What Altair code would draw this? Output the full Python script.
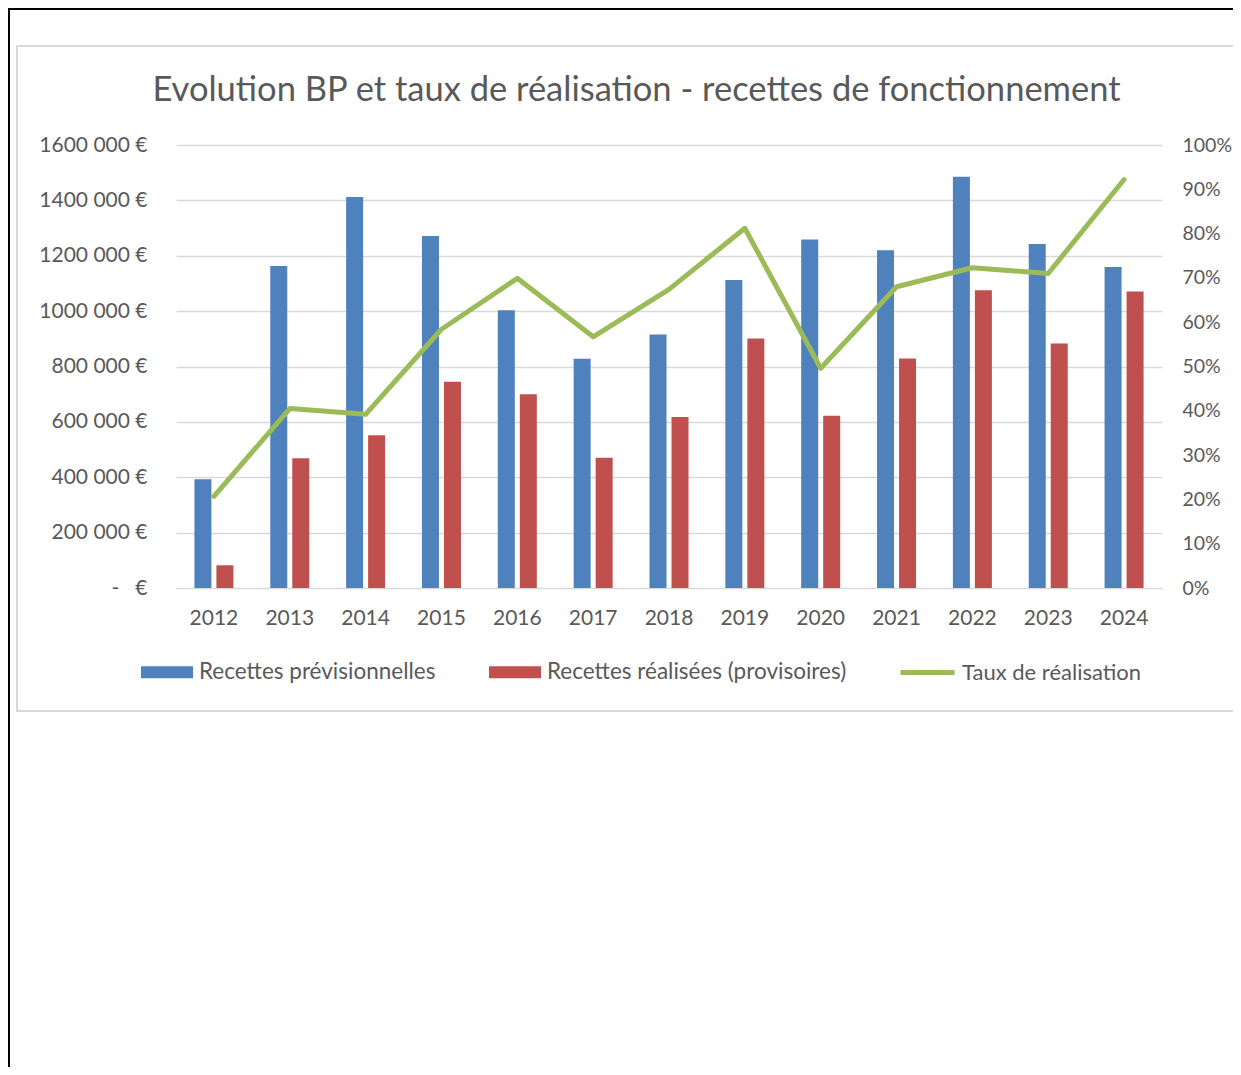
import altair as alt
import pandas as pd

# ---- data ----
years = [str(y) for y in range(2012, 2025)]
previsionnelles = [393000, 1163000, 1412000, 1271000, 1003000, 828000, 916000,
                   1112000, 1259000, 1220000, 1485000, 1242000, 1159000]
realisees = [82000, 469000, 552000, 745000, 700000, 470000, 618000,
             901000, 622000, 829000, 1075000, 883000, 1071000]
taux = [0.207, 0.405, 0.392, 0.584, 0.699, 0.567, 0.674,
        0.812, 0.496, 0.680, 0.723, 0.710, 0.922]

SER_PREV = "Recettes prévisionnelles"
SER_REAL = "Recettes réalisées (provisoires)"
SER_TAUX = "Taux de réalisation"
TITLE = "Evolution BP et taux de réalisation - recettes de fonctionnement"

bars_df = pd.DataFrame({
    "annee": years * 2,
    "serie": [SER_PREV] * len(years) + [SER_REAL] * len(years),
    "montant": previsionnelles + realisees,
})
line_df = pd.DataFrame({"annee": years, "serie": [SER_TAUX] * len(years), "taux": taux})
one = pd.DataFrame({"k": [0]})

FONT = "Lato"
GREY = "#595959"
GRID = "#D9D9D9"
LBL = 21

x_axis = alt.Axis(title=None, labelAngle=0, labelFont=FONT, labelFontSize=LBL,
                  labelColor=GREY, labelPadding=19, ticks=False, domain=False, grid=False)
x_scale = alt.Scale(domain=years, paddingInner=0.4858, paddingOuter=0.2429)

# decorative frames (page border and chart box)
black_frame = alt.Chart(one).mark_rect(fill=None, stroke="black", strokeWidth=2).encode(
    x=alt.value(-167), x2=alt.value(2000), y=alt.value(-136), y2=alt.value(2000))
grey_frame = alt.Chart(one).mark_rect(fill=None, stroke=GRID, strokeWidth=2).encode(
    x=alt.value(-159), x2=alt.value(2000), y=alt.value(-99), y2=alt.value(566))

left_label = ("datum.value == 0 ? '-\u00a0\u00a0\u00a0\u20ac' : "
              "format(datum.value / 1000, 'd') + ' 000 \u20ac'")

bars = alt.Chart(bars_df).mark_bar().encode(
    x=alt.X("annee:N", sort=years, scale=x_scale, axis=x_axis),
    xOffset=alt.XOffset("serie:N", sort=[SER_PREV, SER_REAL],
                        scale=alt.Scale(paddingInner=0.2273, paddingOuter=0)),
    y=alt.Y("montant:Q", scale=alt.Scale(domain=[0, 1600000], nice=False),
            axis=alt.Axis(orient="left", title=None,
                          values=list(range(0, 1600001, 200000)),
                          labelExpr=left_label, labelFont=FONT, labelFontSize=LBL,
                          labelColor=GREY, labelPadding=29, ticks=False, domain=False,
                          grid=True, gridColor=GRID, gridWidth=1.3)),
    color=alt.Color("serie:N",
                    scale=alt.Scale(domain=[SER_PREV, SER_REAL], range=["#4F81BD", "#C0504D"]),
                    legend=alt.Legend(title=None, orient="none", legendX=-35, legendY=501,
                                      direction="horizontal", padding=0,
                                      symbolType="M-1,-0.23H1V0.23H-1Z", symbolSize=2704,
                                      symbolStrokeWidth=0, labelFont=FONT, labelFontSize=22.5,
                                      labelColor=GREY, labelOffset=6, columnPadding=53,
                                      labelLimit=800)),
)

line = alt.Chart(line_df).mark_line(strokeWidth=5, strokeCap="round", strokeJoin="round").encode(
    x=alt.X("annee:N", sort=years, scale=x_scale, axis=x_axis),
    y=alt.Y("taux:Q", scale=alt.Scale(domain=[0, 1], nice=False),
            axis=alt.Axis(orient="right", title=None, format=".0%",
                          values=[i / 10 for i in range(11)],
                          labelFont=FONT, labelFontSize=19.5, labelColor=GREY,
                          labelPadding=20, ticks=False, domain=False, grid=False)),
    color=alt.Color("serie:N",
                    scale=alt.Scale(domain=[SER_TAUX], range=["#9BBB59"]),
                    legend=alt.Legend(title=None, orient="none", legendX=722, legendY=498,
                                      direction="horizontal", padding=0,
                                      symbolType="stroke", symbolSize=2916,
                                      symbolStrokeWidth=5, labelFont=FONT, labelFontSize=22,
                                      labelColor=GREY, labelOffset=5, labelLimit=800)),
)

chart = alt.layer(black_frame, grey_frame, bars, line).resolve_scale(
    y="independent", color="independent"
).properties(
    width=986, height=443,
    padding={"left": 168, "top": 137, "right": 71, "bottom": 479},
    autosize=alt.AutoSizeParams(type="none"),
    background="white",
    title=alt.TitleParams(text=TITLE, font=FONT, fontSize=34.5, fontWeight="normal",
                          color=GREY, anchor="middle", frame="group", dx=-32.5,
                          offset=-127, baseline="alphabetic"),
).configure_view(stroke=None)

chart.save("out.html", embed_options={"renderer": "svg", "actions": False})
